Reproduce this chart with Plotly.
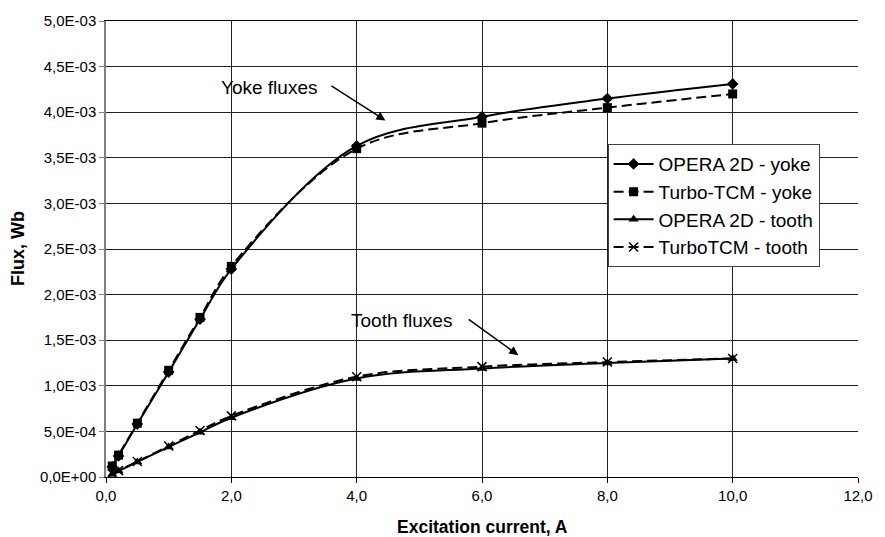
import plotly.graph_objects as go

current = [0.1, 0.2, 0.5, 1.0, 1.5, 2.0, 4.0, 6.0, 8.0, 10.0]
opera_yoke = [0.11e-3, 0.23e-3, 0.58e-3, 1.15e-3, 1.73e-3, 2.28e-3, 3.63e-3, 3.95e-3, 4.15e-3, 4.31e-3]
turbo_yoke = [0.12e-3, 0.24e-3, 0.59e-3, 1.17e-3, 1.75e-3, 2.31e-3, 3.60e-3, 3.88e-3, 4.05e-3, 4.20e-3]
opera_tooth = [0.03e-3, 0.065e-3, 0.165e-3, 0.33e-3, 0.49e-3, 0.65e-3, 1.08e-3, 1.19e-3, 1.25e-3, 1.30e-3]
turbo_tooth = [0.035e-3, 0.07e-3, 0.17e-3, 0.34e-3, 0.51e-3, 0.67e-3, 1.10e-3, 1.21e-3, 1.26e-3, 1.30e-3]

series_names = ["OPERA 2D - yoke", "Turbo-TCM - yoke", "OPERA 2D - tooth", "TurboTCM - tooth"]

x_tickvals = [0, 2, 4, 6, 8, 10, 12]
x_ticktext = ["0,0", "2,0", "4,0", "6,0", "8,0", "10,0", "12,0"]
y_tickvals = [0, 0.5e-3, 1.0e-3, 1.5e-3, 2.0e-3, 2.5e-3, 3.0e-3, 3.5e-3, 4.0e-3, 4.5e-3, 5.0e-3]
y_ticktext = ["0,0E+00", "5,0E-04", "1,0E-03", "1,5E-03", "2,0E-03", "2,5E-03",
              "3,0E-03", "3,5E-03", "4,0E-03", "4,5E-03", "5,0E-03"]

x_title = "Excitation current, A"
y_title = "Flux, Wb"

FONT = "Liberation Sans, Arial, sans-serif"

fig = go.Figure()
fig.add_trace(go.Scatter(x=current, y=opera_yoke, name=series_names[0], mode="lines+markers",
                         line=dict(color="black", width=2, shape="spline", smoothing=1),
                         marker=dict(symbol="diamond", size=9, color="black")))
fig.add_trace(go.Scatter(x=current, y=turbo_yoke, name=series_names[1], mode="lines+markers",
                         line=dict(color="black", width=2, dash="10px,5px", shape="spline", smoothing=1),
                         marker=dict(symbol="square", size=9, color="black")))
fig.add_trace(go.Scatter(x=current, y=opera_tooth, name=series_names[2], mode="lines+markers",
                         line=dict(color="black", width=2, shape="spline", smoothing=1),
                         marker=dict(symbol="triangle-up", size=9, color="black")))
fig.add_trace(go.Scatter(x=current, y=turbo_tooth, name=series_names[3], mode="lines+markers",
                         line=dict(color="black", width=2, dash="10px,5px", shape="spline", smoothing=1),
                         marker=dict(symbol="x-thin-open", size=9, color="black",
                                     line=dict(color="black", width=1.5))))

# text labels
fig.add_annotation(x=2.597, y=4.276e-3, text="Yoke fluxes", showarrow=False,
                   xanchor="center", yanchor="middle", font=dict(size=19, color="black", family=FONT))
fig.add_annotation(x=4.72, y=1.717e-3, text="Tooth fluxes", showarrow=False,
                   xanchor="center", yanchor="middle", font=dict(size=19, color="black", family=FONT))
# arrows
fig.add_annotation(x=4.458, y=3.909e-3, ax=3.573, ay=4.298e-3, axref="x", ayref="y",
                   text="", showarrow=True, arrowhead=2, arrowsize=1.2, arrowwidth=1.5, arrowcolor="black")
fig.add_annotation(x=6.580, y=1.336e-3, ax=5.763, ay=1.739e-3, axref="x", ayref="y",
                   text="", showarrow=True, arrowhead=2, arrowsize=1.2, arrowwidth=1.5, arrowcolor="black")

# axis titles
fig.add_annotation(xref="paper", yref="paper", x=0.5, y=0, yshift=-50, text="<b>%s</b>" % x_title,
                   showarrow=False, xanchor="center", yanchor="middle",
                   font=dict(size=17.5, color="black", family=FONT))
fig.add_annotation(xref="paper", yref="paper", x=0, y=0.5, xshift=-88, text="<b>%s</b>" % y_title,
                   showarrow=False, xanchor="center", yanchor="middle", textangle=-90,
                   font=dict(size=18, color="black", family=FONT))

fig.update_layout(
    width=885, height=537,
    margin=dict(l=106, r=19, t=14, b=60),
    paper_bgcolor="white", plot_bgcolor="white",
    font=dict(family=FONT, color="black", size=15),
    showlegend=True,
    legend=dict(x=0.667, y=0.730, xanchor="left", yanchor="top",
                bgcolor="white", bordercolor="#404040", borderwidth=1,
                font=dict(size=19, family=FONT, color="black"),
                tracegroupgap=0, itemwidth=40),
    xaxis=dict(range=[0, 12], tickvals=x_tickvals, ticktext=x_ticktext,
               showgrid=True, gridcolor="#222222", gridwidth=1,
               showline=True, linecolor="black", linewidth=1, mirror=True,
               ticks="outside", ticklen=5, tickcolor="black", zeroline=False,
               tickfont=dict(size=15)),
    yaxis=dict(range=[0, 5e-3], tickvals=y_tickvals, ticktext=y_ticktext,
               showgrid=True, gridcolor="#222222", gridwidth=1,
               showline=True, linecolor="#808080", linewidth=1.5,
               ticks="outside", ticklen=5, tickcolor="#808080", zeroline=False,
               tickfont=dict(size=15)),
)

fig.write_html("out.html", config={"displayModeBar": False},
               post_script="document.body.style.margin='0';document.body.style.overflow='hidden';")
